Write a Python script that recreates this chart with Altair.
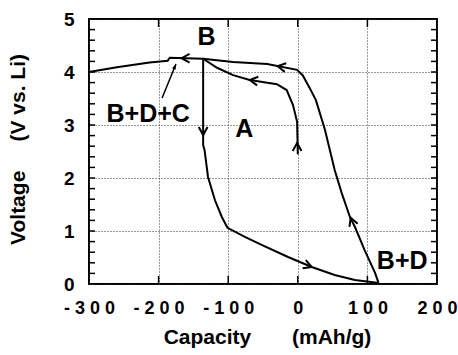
import altair as alt
import pandas as pd

FONT = "Liberation Sans"

# First charge (A): from open circuit up to the 4.2 V region (B)
charge1_cap = [0, -1, -7, -16, -30, -69, -93, -116, -136]
charge1_volt = [2.45, 3.06, 3.38, 3.66, 3.77, 3.85, 3.94, 4.08, 4.25]

# Discharge from B down to ~0 V (B+D)
discharge_cap = [-136, -136, -134, -129, -119, -109, -101, -76, -52, -14, 20, 53, 82, 111, 116]
discharge_volt = [4.25, 2.62, 2.53, 2.02, 1.58, 1.26, 1.06, 0.89, 0.74, 0.51, 0.32, 0.17, 0.075, 0.03, 0.02]

# Second charge from B+D back up to 4 V and beyond (B+D+C)
charge2_cap = [116, 111, 96, 82, 75, 63, 53, 39, 26, 17, 7, -1, -44, -93, -136, -184, -187, -213, -260, -300]
charge2_volt = [0.02, 0.21, 0.64, 1.08, 1.26, 1.72, 2.15, 2.91, 3.47, 3.70, 3.94, 4.04, 4.15, 4.19, 4.25, 4.27, 4.21, 4.18, 4.09, 4.00]

# Direction chevrons along the curves
arrow_cap = [-1, -69, -29, -167, -136, 20, 76]
arrow_volt = [2.66, 3.85, 4.11, 4.26, 2.81, 0.32, 1.25]
arrow_angle = [270, 188, 190, 180, 90, 21, 249]

# State labels
label_text = ["B", "A", "B+D+C", "B+D"]
label_cap = [-131, -77, -215, 150]
label_volt = [4.66, 2.93, 3.20, 0.44]

# Pointer from the "B+D+C" label to the step on the curve
pointer_cap = [-195, -175]
pointer_volt = [3.51, 4.15]

x_ticks = [-300, -200, -100, 0, 100, 200]
y_ticks = [0, 1, 2, 3, 4, 5]
y_minor = [round(0.2 * i, 1) for i in range(1, 25)]
x_inner = [-200, -100, 0, 100]

W, H = 348, 265

rows = []
for name, cs, vs in [("c1", charge1_cap, charge1_volt),
                     ("d", discharge_cap, discharge_volt),
                     ("c2", charge2_cap, charge2_volt)]:
    for i, (c, v) in enumerate(zip(cs, vs)):
        rows.append({"curve": name, "seq": i, "cap": c, "volt": v})
curves = pd.DataFrame(rows)

xs = alt.Scale(domain=[-300, 200], nice=False, zero=False)
ys = alt.Scale(domain=[0, 5], nice=False, zero=False)

x_axis = alt.Axis(
    values=x_ticks, grid=True, gridDash=[1, 2], gridColor="#333", gridWidth=1,
    ticks=False, domain=False, labelFlush=False, labelOverlap=False,
    labelExpr="join(split(toString(datum.value), ''), ' ')",
    labelFont=FONT, labelFontSize=18, labelFontWeight="bold", labelColor="black",
    labelBaseline="middle", labelPadding=24,
    title="Capacity" + "\u00a0" * 7 + "(mAh/g)",
    titleFont=FONT, titleFontSize=21, titleFontWeight="bold", titleColor="black",
    titleX=178, titleY=53, titleAlign="center", titleBaseline="middle",
)
y_axis = alt.Axis(
    values=y_ticks, grid=True, gridDash=[1, 2], gridColor="#333", gridWidth=1,
    ticks=False, domain=False, labelFlush=False, labelOverlap=False,
    labelFont=FONT, labelFontSize=19, labelFontWeight="bold", labelColor="black",
    labelPadding=15,
    title="Voltage" + "\u00a0" * 5 + "(V vs. Li)",
    titleFont=FONT, titleFontSize=21, titleFontWeight="bold", titleColor="black",
    titleX=-71, titleY=130, titleAlign="center", titleBaseline="middle", titleAngle=270,
)

lines = alt.Chart(curves).mark_line(color="black", strokeWidth=2).encode(
    x=alt.X("cap:Q", scale=xs, axis=x_axis),
    y=alt.Y("volt:Q", scale=ys, axis=y_axis),
    detail="curve:N",
    order="seq:Q",
)

arrows = alt.Chart(pd.DataFrame({"cap": arrow_cap, "volt": arrow_volt, "ang": arrow_angle})).mark_point(
    shape="M-1,-0.55 L0,0 L-1,0.55", size=256, filled=False, color="black",
    strokeWidth=2, opacity=1,
).encode(
    x=alt.X("cap:Q", scale=xs),
    y=alt.Y("volt:Q", scale=ys),
    angle=alt.Angle("ang:Q", scale=None),
)

pointer = alt.Chart(pd.DataFrame({"cap": pointer_cap[:1], "volt": pointer_volt[:1],
                                  "cap2": pointer_cap[1:], "volt2": pointer_volt[1:]})).mark_rule(
    color="black", strokeWidth=1.5
).encode(
    x=alt.X("cap:Q", scale=xs), x2="cap2:Q",
    y=alt.Y("volt:Q", scale=ys), y2="volt2:Q",
)

pointer_head = alt.Chart(pd.DataFrame({"cap": pointer_cap[1:], "volt": pointer_volt[1:]})).mark_point(
    shape="M0,0 L-1,-0.35 L-1,0.35 Z", size=120, filled=True, color="black", opacity=1,
    angle=293,
).encode(
    x=alt.X("cap:Q", scale=xs),
    y=alt.Y("volt:Q", scale=ys),
)

labels = alt.Chart(pd.DataFrame({"t": label_text, "cap": label_cap, "volt": label_volt})).mark_text(
    font=FONT, fontSize=25, fontWeight="bold", color="black", align="center", baseline="middle",
).encode(
    x=alt.X("cap:Q", scale=xs),
    y=alt.Y("volt:Q", scale=ys),
    text="t:N",
)

minor = pd.DataFrame({"v": y_minor})
left_ticks = alt.Chart(minor).mark_rule(color="black", strokeWidth=1.5).encode(
    y=alt.Y("v:Q", scale=ys), x=alt.value(0), x2=alt.value(6),
)
right_ticks = alt.Chart(minor).mark_rule(color="black", strokeWidth=1.5).encode(
    y=alt.Y("v:Q", scale=ys), x=alt.value(W), x2=alt.value(W - 6),
)
xt = pd.DataFrame({"c": x_inner})
bottom_ticks = alt.Chart(xt).mark_rule(color="black", strokeWidth=1.5).encode(
    x=alt.X("c:Q", scale=xs), y=alt.value(H), y2=alt.value(H - 8),
)
top_ticks = alt.Chart(xt).mark_rule(color="black", strokeWidth=1.5).encode(
    x=alt.X("c:Q", scale=xs), y=alt.value(0), y2=alt.value(8),
)

chart = alt.layer(
    lines, left_ticks, right_ticks, bottom_ticks, top_ticks,
    arrows, pointer, pointer_head, labels,
).properties(
    width=W, height=H,
    autosize=alt.AutoSizeParams(type="none"),
    padding={"left": 89, "top": 19, "right": 21, "bottom": 71},
    background="white",
).configure_view(stroke="black", strokeWidth=2)

chart.save("out.html", embed_options={"renderer": "svg", "actions": False})
